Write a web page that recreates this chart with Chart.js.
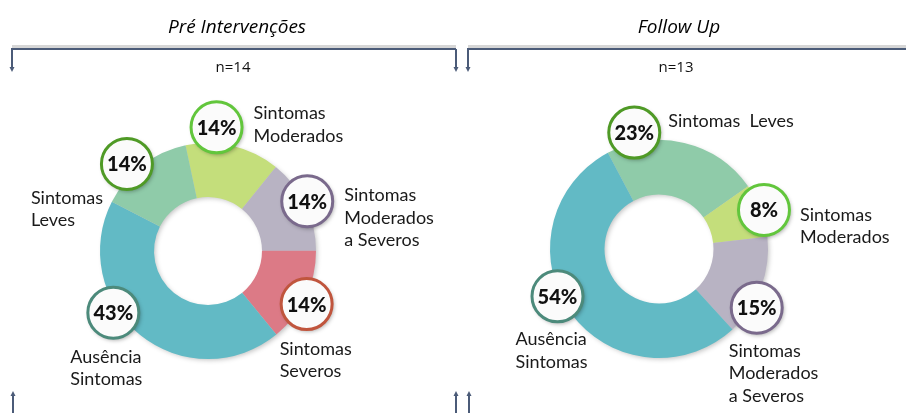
<!DOCTYPE html>
<html>
<head>
<meta charset="utf-8">
<script src="https://cdn.jsdelivr.net/npm/chart.js@4"></script>
<style>
  body { margin: 0; background: #fff; }
  #wrap { position: relative; width: 906px; height: 413px; }
  canvas { position: absolute; top: 0; }
</style>
</head>
<body>
<div id="wrap">
  <canvas id="pre" width="462" height="413" style="left:0"></canvas>
  <canvas id="follow" width="444" height="413" style="left:462px"></canvas>
</div>
<script>
// data
const preLabels = [["Sintomas", "Moderados"], ["Sintomas", "Moderados", "a Severos"], ["Sintomas", "Severos"], ["Ausência", "Sintomas"], ["Sintomas", "Leves"]];
const preValues = [14, 14, 14, 43, 14];
const followLabels = [["Sintomas  Leves"], ["Sintomas", "Moderados"], ["Sintomas", "Moderados", "a Severos"], ["Ausência", "Sintomas"]];
const followValues = [23, 8, 15, 54];

// colours per category (fill of slice, ring of badge)
const sliceColor = {
  "Leves": "#8fcba9",
  "Moderados": "#c4de7b",
  "a Severos": "#b8b3c3",
  "Severos": "#dc7a86",
  "Sintomas": "#62bac5"
};
const ringColor = {
  "Leves": "#4f9a26",
  "Moderados": "#62c63c",
  "a Severos": "#7a6a8c",
  "Severos": "#c0553d",
  "Sintomas": "#4c8a7b"
};
const key = (lines) => {
  const last = lines[lines.length - 1];
  return last.endsWith("Leves") ? "Leves" : last;
};

const INK = "#4b5b78";

const drawArrow = (ctx, x, y1, y2) => {
  const dir = y2 > y1 ? 1 : -1;
  ctx.beginPath();
  ctx.moveTo(x, y1);
  ctx.lineTo(x, y2 - dir * 3);
  ctx.stroke();
  ctx.beginPath();
  ctx.moveTo(x - 2.5, y2 - dir * 5);
  ctx.lineTo(x + 2.5, y2 - dir * 5);
  ctx.lineTo(x, y2);
  ctx.closePath();
  ctx.fill();
};

// decorations: title, bracket, n=, badges and their captions
const decorPlugin = {
  id: "decor",
  beforeDatasetsDraw(chart, args, o) {
    // soft shadow under the ring
    const ctx = chart.ctx;
    const p = chart.getDatasetMeta(0).data[0].getProps(["x", "y", "outerRadius", "innerRadius"]);
    ctx.save();
    ctx.shadowColor = "rgba(0,0,0,0.25)";
    ctx.shadowBlur = 5;
    ctx.shadowOffsetX = 2;
    ctx.shadowOffsetY = 2;
    ctx.fillStyle = "#cccccc";
    ctx.beginPath();
    ctx.arc(p.x, p.y, p.outerRadius - 1, 0, Math.PI * 2);
    ctx.arc(p.x, p.y, p.innerRadius + 1, 0, Math.PI * 2, true);
    ctx.fill();
    ctx.restore();
  },
  afterDraw(chart, args, o) {
    const ctx = chart.ctx;
    ctx.save();
    // title
    ctx.fillStyle = "#000";
    ctx.font = "italic 19px 'Open Sans'";
    ctx.textAlign = "center";
    ctx.textBaseline = "middle";
    ctx.fillText(o.title, o.titleX, 28);
    // bracket
    ctx.save();
    ctx.strokeStyle = "#d6d6d6";
    ctx.lineWidth = 3;
    ctx.beginPath();
    ctx.moveTo(o.bx1, 46.5);
    ctx.lineTo(o.bx2, 46.5);
    ctx.stroke();
    ctx.restore();
    ctx.strokeStyle = INK;
    ctx.fillStyle = INK;
    ctx.lineWidth = 2;
    ctx.beginPath();
    ctx.moveTo(o.bx1 - 1, 49);
    ctx.lineTo(o.bx2, 49);
    ctx.stroke();
    o.downArrows.forEach((x) => drawArrow(ctx, x, 49, 72));
    o.upArrows.forEach((x) => drawArrow(ctx, x, 413, 391));
    // n=
    ctx.fillStyle = "#111";
    ctx.font = "15px 'Open Sans'";
    ctx.fillText(o.nText, o.nX, 68);

    // badges sit on the slices, captions next to them
    const meta = chart.getDatasetMeta(0);
    const labels = chart.data.labels;
    const values = chart.data.datasets[0].data;
    meta.data.forEach((el, i) => {
      const a = el.getProps(["x", "y", "startAngle", "endAngle", "outerRadius"]);
      const ang = (a.startAngle + a.endAngle) / 2 + o.nudge[i][0] * Math.PI / 180;
      const rr = a.outerRadius + o.nudge[i][1];
      const bx = a.x + Math.cos(ang) * rr;
      const by = a.y + Math.sin(ang) * rr;
      const k = key(labels[i]);
      ctx.save();
      ctx.shadowColor = "rgba(0,0,0,0.35)";
      ctx.shadowBlur = 4;
      ctx.shadowOffsetX = 1.5;
      ctx.shadowOffsetY = 2;
      ctx.fillStyle = "#fbfbfb";
      ctx.beginPath();
      ctx.arc(bx, by, 25.5, 0, Math.PI * 2);
      ctx.fill();
      ctx.restore();
      ctx.strokeStyle = ringColor[k];
      ctx.lineWidth = 3;
      ctx.beginPath();
      ctx.arc(bx, by, 25.5, 0, Math.PI * 2);
      ctx.stroke();
      ctx.fillStyle = "#111";
      ctx.textAlign = "center";
      ctx.font = "900 20px Lato";
      ctx.fillText(values[i] + "%", bx, by + 1);
      // caption
      ctx.textAlign = "left";
      ctx.font = "18px Lato";
      ctx.fillStyle = "#1a1a1a";
      labels[i].forEach((line, j) => {
        ctx.fillText(line, bx + o.cap[i][0], by + o.cap[i][1] + j * 22.5);
      });
    });
    ctx.restore();
  }
};

const makeChart = (id, labels, values, rotation, padding, decor) => {
  return new Chart(document.getElementById(id), {
    type: "doughnut",
    data: {
      labels: labels,
      datasets: [{
        data: values,
        backgroundColor: labels.map((l) => sliceColor[key(l)]),
        borderWidth: 0
      }]
    },
    options: {
      responsive: false,
      animation: false,
      devicePixelRatio: 1,
      cutout: "50%",
      rotation: rotation,
      layout: { padding: padding },
      plugins: {
        legend: { display: false },
        tooltip: { enabled: false },
        decor: decor
      }
    },
    plugins: [decorPlugin]
  });
};

makeChart("pre", preLabels, preValues, -12,
  { left: 100, right: 146, top: 143, bottom: 54 },
  {
    title: "Pré Intervenções", titleX: 237,
    bx1: 12, bx2: 456, downArrows: [12, 456], upArrows: [13, 456],
    nText: "n=14", nX: 233,
    nudge: [[-9.5, 16], [-1, 3], [3, 4], [18, 5], [-5.5, 11]],
    cap: [[37, -14], [37, -6], [-27, 45], [-43, 44], [-96, 34]]
  });

makeChart("follow", followLabels, followValues, -28,
  { left: 88, right: 138, top: 140, bottom: 55 },
  {
    title: "Follow Up", titleX: 217,
    bx1: 6, bx2: 446, downArrows: [6], upArrows: [7],
    nText: "n=13", nX: 214,
    nudge: [[-25.4, 10], [0.4, 3], [10.4, 5], [10.2, 3]],
    cap: [[34, -11], [36, 5], [-28, 43], [-42, 43]]
  });
</script>
</body>
</html>
